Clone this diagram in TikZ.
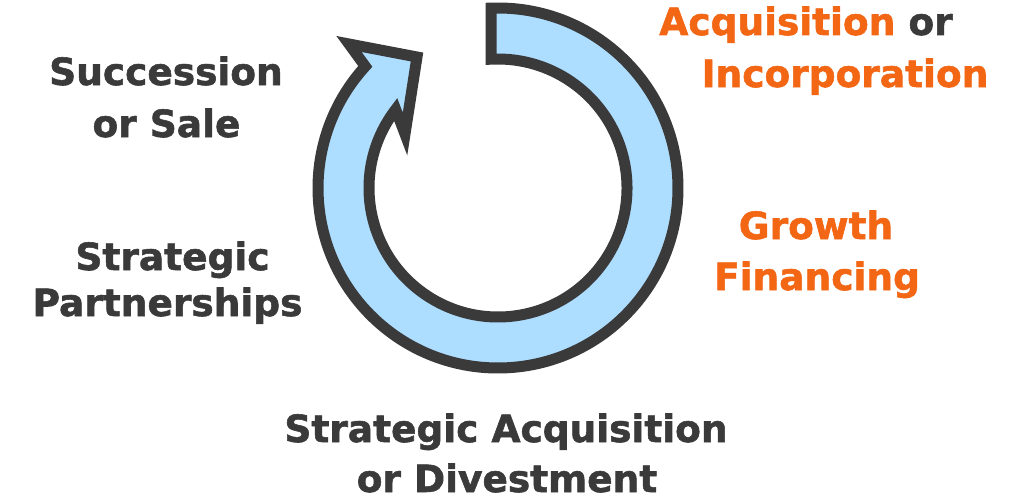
\documentclass[tikz,border=0pt]{standalone}
\usepackage{fontspec}
\setmainfont{DejaVu Sans}[BoldFeatures={FakeBold=1.5}]
\definecolor{ink}{RGB}{58,58,58}
\definecolor{orng}{RGB}{242,102,20}
\definecolor{sky}{RGB}{173,221,255}
\begin{document}
\begin{tikzpicture}[x=1pt,y=1pt,
  lbl/.style={anchor=base,inner sep=0pt,font=\fontsize{37.5}{44}\selectfont\bfseries,text=ink},
  hot/.style={lbl,text=orng},
  ring/.style={draw=ink,fill=sky,line width=11pt,line join=miter}]
\useasboundingbox (0,0) rectangle (1024,-495);
\fill[white] (0,0) rectangle (1024,-495);
\coordinate (C) at (498,-188);
\path[ring] ([shift={(92.2:180)}]C) arc[start angle=92.2,end angle=-222.5,radius=180]
  -- (349,-44) -- (417,-57) -- (405,-134)
  -- ([shift={(-217.5:129)}]C) arc[start angle=-217.5,end angle=93.1,radius=129] -- cycle;
\node[lbl] (suc1) at (166,-85) {Succession};
\node[lbl] (suc2) at (166.5,-137) {or Sale};
\node[lbl] (par1) at (172.5,-270) {Strategic};
\node[lbl] (par2) at (167.5,-316) {Partnerships};
\node[lbl] (acq1) at (806,-35) {\textcolor{orng}{Acquisition} or};
\node[hot] (acq2) at (845,-87) {Incorporation};
\node[hot] (gro1) at (816,-239) {Growth};
\node[hot] (gro2) at (817,-290) {Financing};
\node[lbl] (sac1) at (506,-442) {Strategic Acquisition};
\node[lbl] (sac2) at (507,-492) {or Divestment};
\end{tikzpicture}
\end{document}
